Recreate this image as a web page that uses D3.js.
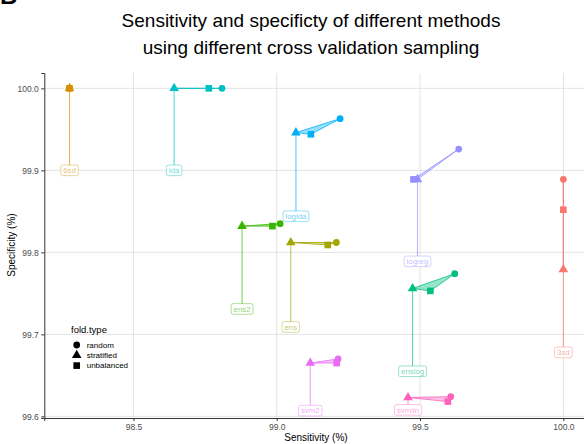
<!DOCTYPE html>
<html>
<head>
<meta charset="utf-8">
<script src="https://cdn.jsdelivr.net/npm/d3@7"></script>
<style>
  body { margin: 0; background: #fff; }
  svg { display: block; font-family: "Liberation Sans", Arial, sans-serif; }
  .grid line { stroke: #e3e3e3; stroke-width: 1; }
  .axis path, .axis line { stroke: #333; stroke-width: 1; }
  .axis text { fill: #4d4d4d; font-size: 8.5px; }
</style>
</head>
<body>
<div id="chart"></div>
<script>
  // one entry per method (alphabetical, same order as ggplot's hue palette)
  var methods = ["3sd", "6sd", "ens", "ens2", "enslog", "lda", "loglda", "logreg", "svm2", "svmlin"];
  var colors  = ["#F8766D", "#D89000", "#A3A500", "#39B600", "#00BF7D", "#00BFC4", "#00B0F6", "#9590FF", "#E76BF3", "#FF62BC"];

  // sensitivity / specificity (%) per fold type
  var randomSens = [100.0, 98.277, 99.208, 99.012, 99.621, 98.809, 99.221, 99.635, 99.214, 99.607];
  var randomSpec = [99.889, 100.0, 99.812, 99.835, 99.774, 100.0, 99.963, 99.926, 99.670, 99.624];
  var stratSens  = [100.0, 98.277, 99.049, 98.879, 99.474, 98.642, 99.067, 99.491, 99.117, 99.458];
  var stratSpec  = [99.779, 100.0, 99.812, 99.832, 99.756, 100.0, 99.946, 99.889, 99.665, 99.623];
  var unbalSens  = [100.0, 98.277, 99.178, 98.985, 99.536, 98.763, 99.119, 99.477, 99.209, 99.597];
  var unbalSpec  = [99.852, 100.0, 99.809, 99.832, 99.753, 100.0, 99.944, 99.889, 99.665, 99.618];
  // label positions (specificity), placed under the stratified point
  var labelSpec  = [99.678, 99.9, 99.709, 99.731, 99.655, 99.9, 99.844, 99.789, 99.607, 99.608];

  var foldTypes = ["random", "stratified", "unbalanced"];
  var xTicks = [98.5, 99.0, 99.5, 100.0];
  var yTicks = [99.6, 99.7, 99.8, 99.9, 100.0];

  var W = 584, H = 444;
  var svg = d3.select("#chart").append("svg").attr("width", W).attr("height", H);

  var x = d3.scaleLinear().domain([98.189, 100.086]).range([44.3, 588]);
  var y = d3.scaleLinear().domain([99.598, 100.0187]).range([418, 73]);

  var shapes = { random: d3.symbolCircle, stratified: d3.symbolTriangle, unbalanced: d3.symbolSquare };
  var sizes  = { random: 36, stratified: 40, unbalanced: 44 };

  // build per-method rows from the arrays
  var rows = methods.map(function (m, i) {
    return {
      method: m, color: colors[i], labelY: labelSpec[i],
      pts: [
        { type: "stratified", sens: stratSens[i],  spec: stratSpec[i] },
        { type: "unbalanced", sens: unbalSens[i],  spec: unbalSpec[i] },
        { type: "random",     sens: randomSens[i], spec: randomSpec[i] }
      ]
    };
  });

  // cut-off panel letter in the corner (it is cropped in the original figure too)
  svg.append("text").attr("x", 0).attr("y", 4).attr("font-size", 24)
    .attr("font-weight", "bold").text("B");

  // title
  var title = svg.append("text").attr("text-anchor", "middle").attr("font-size", 19).attr("fill", "#000");
  title.append("tspan").attr("x", 311).attr("y", 27).text("Sensitivity and specificty of different methods");
  title.append("tspan").attr("x", 311).attr("y", 54).text("using different cross validation sampling");

  // grid
  var grid = svg.append("g").attr("class", "grid");
  grid.selectAll(".gx").data(xTicks).enter().append("line")
    .attr("x1", function (d) { return x(d); }).attr("x2", function (d) { return x(d); })
    .attr("y1", 73).attr("y2", 418);
  grid.selectAll(".gy").data(yTicks).enter().append("line")
    .attr("x1", 44.3).attr("x2", 588)
    .attr("y1", function (d) { return y(d); }).attr("y2", function (d) { return y(d); });

  // axes
  svg.append("g").attr("class", "axis").attr("transform", "translate(0,418)")
    .call(d3.axisBottom(x).tickValues(xTicks).tickFormat(d3.format(".1f")).tickSizeOuter(0).tickSize(3).tickPadding(2.5));
  svg.append("g").attr("class", "axis").attr("transform", "translate(44.3,0)")
    .call(d3.axisLeft(y).tickValues(yTicks).tickFormat(d3.format(".1f")).tickSizeOuter(0).tickSize(3).tickPadding(2.5));

  svg.append("text").attr("x", 316).attr("y", 441).attr("text-anchor", "middle")
    .attr("font-size", 10).text("Sensitivity (%)");
  svg.append("text").attr("transform", "translate(15,245) rotate(-90)").attr("text-anchor", "middle")
    .attr("font-size", 10).text("Specificity (%)");

  var plot = svg.append("g");

  // segment from label up to the stratified point
  plot.selectAll(".seg").data(rows).enter().append("line")
    .attr("x1", function (d) { return x(d.pts[0].sens); })
    .attr("x2", function (d) { return x(d.pts[0].sens); })
    .attr("y1", function (d) { return y(d.labelY); })
    .attr("y2", function (d) { return y(d.pts[0].spec); })
    .attr("stroke", function (d) { return d.color; })
    .attr("stroke-opacity", 0.7).attr("stroke-width", 1);

  // polygon joining the three fold types
  plot.selectAll(".poly").data(rows).enter().append("polygon")
    .attr("points", function (d) {
      return d.pts.map(function (p) { return x(p.sens) + "," + y(p.spec); }).join(" ");
    })
    .attr("fill", function (d) { return d.color; }).attr("fill-opacity", 0.4)
    .attr("stroke", function (d) { return d.color; }).attr("stroke-opacity", 0.8)
    .attr("stroke-width", 1).attr("stroke-linejoin", "round");

  // labels
  var lab = plot.selectAll(".lab").data(rows).enter().append("g")
    .attr("transform", function (d) { return "translate(" + x(d.pts[0].sens) + "," + y(d.labelY) + ")"; });
  lab.append("rect").attr("fill", "#fff")
    .attr("stroke", function (d) { return d.color; }).attr("stroke-opacity", 0.5)
    .attr("stroke-width", 0.8).attr("rx", 2).attr("ry", 2);
  lab.append("text").attr("text-anchor", "middle").attr("dy", "0.35em")
    .attr("font-size", 7.8)
    .attr("fill", function (d) { return d.color; }).attr("fill-opacity", 0.6)
    .text(function (d) { return d.method; });
  lab.each(function () {
    var g = d3.select(this);
    var w = g.select("text").node().getComputedTextLength() + 5;
    g.select("rect").attr("x", -w / 2).attr("y", -5.3).attr("width", w).attr("height", 10.6);
  });

  // points
  var pts = [];
  rows.forEach(function (r) { r.pts.forEach(function (p) { pts.push({ p: p, color: r.color }); }); });
  plot.selectAll(".pt").data(pts).enter().append("path")
    .attr("d", function (d) { return d3.symbol().type(shapes[d.p.type]).size(sizes[d.p.type])(); })
    .attr("transform", function (d) { return "translate(" + x(d.p.sens) + "," + y(d.p.spec) + ")"; })
    .attr("fill", function (d) { return d.color; });

  // legend
  var leg = svg.append("g").attr("transform", "translate(71,333)");
  leg.append("text").attr("font-size", 9.5).text("fold.type");
  var items = leg.selectAll(".li").data(foldTypes).enter().append("g")
    .attr("transform", function (d, i) { return "translate(0," + (12 + i * 10.3) + ")"; });
  items.append("path")
    .attr("d", function (d) { return d3.symbol().type(shapes[d]).size(sizes[d])(); })
    .attr("transform", "translate(5.7,0)").attr("fill", "#000");
  items.append("text").attr("x", 15.7).attr("dy", "0.35em").attr("font-size", 8).text(function (d) { return d; });
</script>
</body>
</html>
